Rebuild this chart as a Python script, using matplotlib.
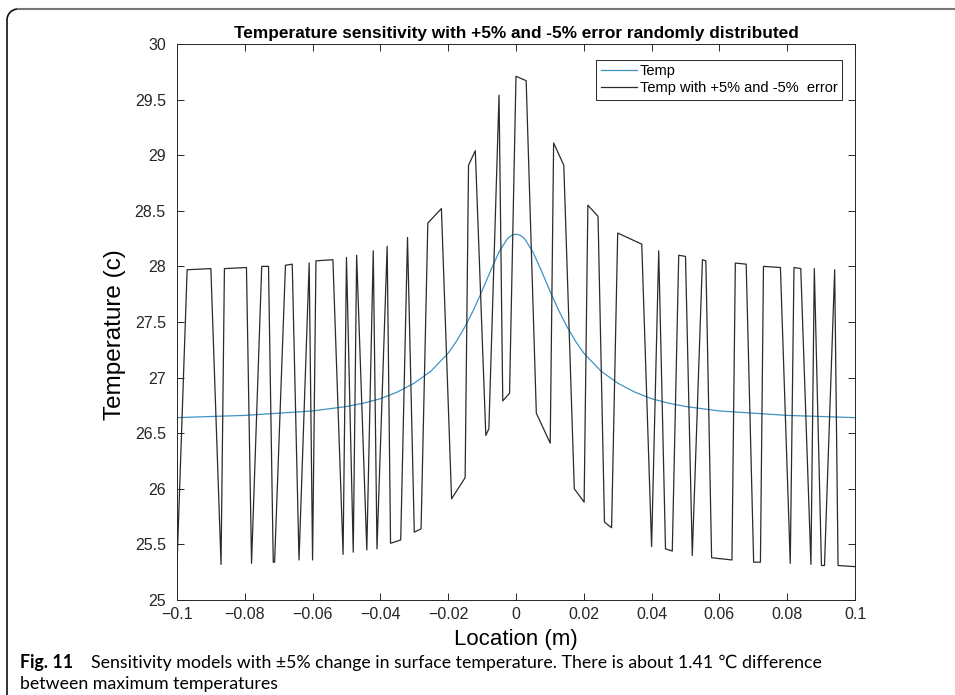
import numpy as np
import matplotlib
matplotlib.use("Agg")
import matplotlib.pyplot as plt
from matplotlib.lines import Line2D

# 数据: 原始温度曲线
temp_x = [-0.1, -0.09, -0.08, -0.07, -0.06, -0.05, -0.045, -0.04, -0.035, -0.03, -0.025,
          -0.02, -0.0175, -0.015, -0.0125, -0.01, -0.0075, -0.005, -0.0025, -0.00125, 0.0,
          0.00125, 0.0025, 0.005, 0.0075, 0.01, 0.0125, 0.015, 0.0175, 0.02, 0.025,
          0.03, 0.035, 0.04, 0.045, 0.05, 0.06, 0.07, 0.08, 0.09, 0.1]
temp_y = [26.64, 26.65, 26.66, 26.68, 26.70, 26.74, 26.77, 26.81, 26.87, 26.95, 27.06,
          27.22, 27.33, 27.46, 27.61, 27.78, 27.96, 28.13, 28.25, 28.28, 28.29,
          28.28, 28.25, 28.13, 27.96, 27.78, 27.61, 27.46, 27.33, 27.22, 27.06,
          26.95, 26.87, 26.81, 26.77, 26.74, 26.70, 26.68, 26.66, 26.65, 26.64]

# 数据: 加 +-5% 误差后的温度 (折线顶点)
err_x = [-0.1, -0.097, -0.090, -0.087, -0.086, -0.0795, -0.078, -0.075, -0.073, -0.0716,
         -0.0712, -0.068, -0.066, -0.064, -0.061, -0.060, -0.059, -0.054, -0.051, -0.050,
         -0.048, -0.047, -0.044, -0.0421, -0.041, -0.038, -0.037, -0.034, -0.032, -0.030,
         -0.028, -0.026, -0.022, -0.019, -0.015, -0.014, -0.012, -0.0089, -0.008, -0.005,
         -0.0039, -0.0019, 0.0, 0.003, 0.006, 0.0101, 0.0111, 0.0141, 0.0172, 0.0201,
         0.0212, 0.0242, 0.0261, 0.0282, 0.030, 0.0371, 0.040, 0.0421, 0.0441, 0.0461,
         0.048, 0.050, 0.052, 0.055, 0.056, 0.0577, 0.0637, 0.0647, 0.0679, 0.0701,
         0.0721, 0.073, 0.078, 0.0809, 0.082, 0.084, 0.087, 0.088, 0.0901, 0.091,
         0.094, 0.095, 0.1]
err_y = [25.30, 27.97, 27.98, 25.32, 27.98, 27.99, 25.33, 28.00, 28.00, 25.34,
         25.34, 28.01, 28.02, 25.36, 28.03, 25.36, 28.05, 28.06, 25.41, 28.08,
         25.43, 28.10, 25.45, 28.14, 25.46, 28.18, 25.51, 25.54, 28.26, 25.61,
         25.64, 28.39, 28.52, 25.91, 26.10, 28.91, 29.04, 26.48, 26.54, 29.54,
         26.79, 26.86, 29.71, 29.67, 26.68, 26.41, 29.11, 28.91, 26.00, 25.88,
         28.55, 28.45, 25.70, 25.65, 28.30, 28.20, 25.48, 28.14, 25.46, 25.44,
         28.10, 28.09, 25.40, 28.06, 28.05, 25.38, 25.36, 28.03, 28.02, 25.34,
         25.34, 28.00, 27.99, 25.33, 27.99, 27.98, 25.32, 27.98, 25.31, 25.31,
         27.97, 25.31, 25.30]

# 刻度
x_ticks = [-0.1, -0.08, -0.06, -0.04, -0.02, 0.0, 0.02, 0.04, 0.06, 0.08, 0.1]
x_tick_labels = ["\u22120.1", "\u22120.08", "\u22120.06", "\u22120.04", "\u22120.02", "0",
                 "0.02", "0.04", "0.06", "0.08", "0.1"]
y_ticks = [25, 25.5, 26, 26.5, 27, 27.5, 28, 28.5, 29, 29.5, 30]
y_tick_labels = ["25", "25.5", "26", "26.5", "27", "27.5", "28", "28.5", "29", "29.5", "30"]

plt.rcParams["font.family"] = ["Liberation Sans", "DejaVu Sans"]

fig = plt.figure(figsize=(9.55, 6.95), dpi=100)
ax = fig.add_axes([0.1853, 0.1367, 0.7100, 0.8000])

ax.plot(temp_x, temp_y, color="#3f93c4", lw=0.9, label="Temp")
ax.plot(err_x, err_y, color="#2b2b2b", lw=0.9, label="Temp with +5% and -5%  error")

ax.set_xlim(-0.1, 0.1)
ax.set_ylim(25, 30)
ax.set_xticks(x_ticks)
ax.set_xticklabels(x_tick_labels)
ax.set_yticks(y_ticks)
ax.set_yticklabels(y_tick_labels)
ax.tick_params(direction="in", length=5, width=0.7, top=True, right=True,
               labelsize=11.5, colors="#262626")
ax.tick_params(axis="x", pad=5)
ax.tick_params(axis="y", pad=8)
for s in ax.spines.values():
    s.set_linewidth(0.7)
    s.set_color("#262626")

ax.set_xlabel("Location (m)", fontsize=16, labelpad=5)
ax.set_ylabel("Temperature (c)", fontsize=17.5, labelpad=6)
ax.yaxis.label.set_y(0.477)
ax.set_title("Temperature sensitivity with +5% and -5% error randomly distributed",
             fontsize=12.4, fontweight="bold", pad=4)

leg = ax.legend(loc="upper right", bbox_to_anchor=(0.981, 0.971), borderaxespad=0,
                fancybox=False, edgecolor="#262626", framealpha=1, fontsize=10.5,
                handlelength=2.5, handletextpad=0.2, labelspacing=0.2, borderpad=0.3)
leg.get_frame().set_linewidth(0.7)

# 外框 (左边 + 圆角 + 顶边)
W, H = 955.0, 695.0
r = 11.0
x0, y0 = 7.0, 9.0
t = np.linspace(np.pi, np.pi / 2, 12)
arc_x = x0 + r + r * np.cos(t)
arc_y = y0 + r - r * np.sin(t)
fig.add_artist(Line2D(np.r_[x0, arc_x] / W, 1 - np.r_[H, arc_y] / H,
                      transform=fig.transFigure, color="#111111", lw=1.2))
fig.add_artist(Line2D(np.r_[x0 + r, W] / W, 1 - np.r_[y0, y0] / H,
                      transform=fig.transFigure, color="#777777", lw=1.5))

# 图注
cap_font = ["Lato", "DejaVu Sans"]
fig.text(20 / W, 1 - 668 / H, "Fig. 11", fontsize=12.8, fontweight="bold", family=cap_font, va="baseline")
fig.text(91 / W, 1 - 668 / H,
         "Sensitivity models with \u00b15% change in surface temperature. There is about 1.41 \u2103 difference",
         fontsize=12.8, family=cap_font, va="baseline")
fig.text(20 / W, 1 - 689 / H, "between maximum temperatures", fontsize=12.8, family=cap_font, va="baseline")

plt.savefig("out.png", dpi=100)
plt.close()
